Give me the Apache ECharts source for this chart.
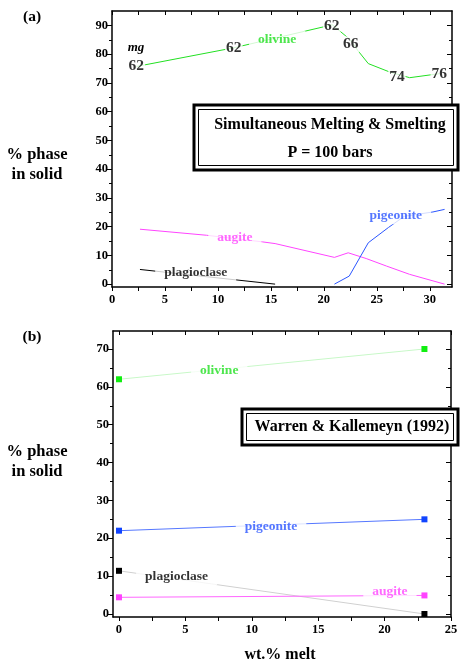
<!DOCTYPE html>
<html>
<head>
<meta charset="utf-8">
<script src="https://cdn.jsdelivr.net/npm/echarts@6/dist/echarts.min.js"></script>
<style>html,body{margin:0;padding:0;background:#fff}#c{width:461px;height:665px}</style>
</head>
<body>
<div id="c"></div>
<script>
// ---------- Panel (a): Simultaneous Melting & Smelting ----------
const olivineA = [[2.3,75.7],[11.5,82.2],[20.8,90.2],[22.5,85.0],[23.2,81.3],[24.2,76.7],[26.2,73.8],[28.1,71.8],[30.9,73.2]];
const augiteA = [[2.64,19.1],[8.93,17.0],[14.2,14.7],[15.4,14.1],[21.0,9.3],[22.3,10.9],[24.0,8.9],[25.9,6.3],[28.1,3.4],[31.4,0]];
const pigeoniteA = [[21.0,0],[22.4,2.8],[24.2,14.4],[26.1,19.7],[27.6,23.6],[30.3,25.1],[31.4,26.0]];
const plagioclaseA = [[2.64,5.1],[15.4,0]];
const mgLabelsA = [[2.3,75.8,'62'],[11.5,82.2,'62'],[20.75,89.9,'62'],[22.55,83.4,'66'],[26.9,72.0,'74'],[30.9,73.0,'76']];
const phaseLabelsA = [[15.6,85.1,'olivine','#22e022'],[11.6,16.1,'augite','#ff44ff'],[26.8,24.0,'pigeonite','#2a55ff'],[7.9,4.1,'plagioclase','#000']];
const xLabelsA = [0,5,10,15,20,25,30];
const xTicksA = [0,2.5,5,7.5,10,12.5,15,17.5,20,22.5,25,27.5,30];
const yLabelsA = [0,10,20,30,40,50,60,70,80,90];
const yMinorA = [5,15,25,35,45,55,65,75,85];

// ---------- Panel (b): Warren & Kallemeyn (1992) ----------
const meltB = [0,23];
const olivineB = [62,70];
const pigeoniteB = [22,25];
const plagioclaseB = [11.4,0];
const augiteB = [4.4,4.9];
const phaseLabelsB = [[7.55,64.4,'olivine','#22e022'],[11.45,23.2,'pigeonite','#2a55ff'],[4.34,10.0,'plagioclase','#000'],[20.4,5.9,'augite','#ff44ff']];
const xLabelsB = [0,5,10,15,20,25];
const xTicksB = [0,2.5,5,7.5,10,12.5,15,17.5,20,22.5,25];
const yLabelsB = [0,10,20,30,40,50,60,70];
const yMinorB = [5,15,25,35,45,55,65];

const FONT = "'Liberation Serif','Times New Roman',serif";
const TICKFS = 12.5;
const chart = echarts.init(document.getElementById('c'), null, {renderer:'canvas'});

function xAxes(grid, min, max, labels, ticks) {
  return [
    {type:'value', gridIndex:grid, min:min, max:max, position:'bottom',
     axisLine:{show:true, onZero:false, lineStyle:{color:'#000', width:1.5}},
     axisTick:{show:true, inside:false, length:4, customValues:ticks, lineStyle:{color:'#000', width:1}},
     axisLabel:{show:true, customValues:labels, color:'#000', fontFamily:FONT, fontWeight:'bold', fontSize:TICKFS, margin:6},
     splitLine:{show:false}},
    {type:'value', gridIndex:grid, min:min, max:max, position:'top',
     axisLine:{show:true, onZero:false, lineStyle:{color:'#000', width:1.5}},
     axisTick:{show:true, inside:true, length:4, customValues:ticks, lineStyle:{color:'#000', width:1}},
     axisLabel:{show:false}, splitLine:{show:false}}
  ];
}
function yAxes(grid, min, max, labels, minor) {
  return [
    {type:'value', gridIndex:grid, min:min, max:max, position:'left',
     axisLine:{show:true, onZero:false, lineStyle:{color:'#000', width:1.5}},
     axisTick:{show:true, inside:false, length:5, customValues:labels, lineStyle:{color:'#000', width:1}},
     axisLabel:{show:true, customValues:labels, color:'#000', fontFamily:FONT, fontWeight:'bold', fontSize:TICKFS, margin:4},
     splitLine:{show:false}},
    {type:'value', gridIndex:grid, min:min, max:max, position:'left',
     axisLine:{show:false, onZero:false},
     axisTick:{show:true, inside:false, length:3, customValues:minor, lineStyle:{color:'#000', width:1}},
     axisLabel:{show:false}, splitLine:{show:false}},
    {type:'value', gridIndex:grid, min:min, max:max, position:'right',
     axisLine:{show:true, onZero:false, lineStyle:{color:'#000', width:1.5}},
     axisTick:{show:true, inside:true, length:5, customValues:labels, lineStyle:{color:'#000', width:1}},
     axisLabel:{show:false}, splitLine:{show:false}},
    {type:'value', gridIndex:grid, min:min, max:max, position:'right',
     axisLine:{show:false, onZero:false},
     axisTick:{show:true, inside:true, length:3, customValues:minor, lineStyle:{color:'#000', width:1}},
     axisLabel:{show:false}, splitLine:{show:false}}
  ];
}

function lineSeries(xi, yi, data, color, width) {
  return {type:'line', xAxisIndex:xi, yAxisIndex:yi, data:data, showSymbol:false, symbol:'none',
    lineStyle:{color:color, width:width}, z:2, animation:false, silent:true};
}
function labelSeries(xi, yi, data, size, pad) {
  return {type:'scatter', xAxisIndex:xi, yAxisIndex:yi, symbolSize:0, z:5, animation:false, silent:true,
    data:data.map(d => ({value:[d[0],d[1]], name:d[2],
      label:{show:true, position:'inside', formatter:'{b}', color:d[3]||'#000', fontFamily:FONT, fontWeight:'bold',
        fontSize:size, backgroundColor:'#fff', padding:pad}})),
    label:{show:true, position:'inside', formatter:'{b}', fontFamily:FONT, fontWeight:'bold', fontSize:size,
      backgroundColor:'#fff', padding:pad}};
}

function pointSeries(xi, yi, ys, color, lineColor) {
  return {type:'line', xAxisIndex:xi, yAxisIndex:yi, data:meltB.map((x,i)=>[x,ys[i]]),
    symbol:'rect', symbolSize:6, showSymbol:true, itemStyle:{color:color},
    lineStyle:{color:lineColor, width:1}, z:3, animation:false, silent:true};
}

const T = (x, y, text, font, extra) => Object.assign({type:'text', x:x, y:y,
  style:{text:text, font:font + ' ' + FONT, fill:'#000', align:'center', verticalAlign:'middle'}}, extra||{});

const option = {
  animation:false,
  grid:[
    {left:112, right:9, top:11, bottom:378},
    {left:113, right:10, top:331, bottom:48}
  ],
  xAxis:[...xAxes(0, 0, 32.1, xLabelsA, xTicksA), ...xAxes(1, -0.45, 25, xLabelsB, xTicksB)],
  yAxis:[...yAxes(0, -1, 95, yLabelsA, yMinorA), ...yAxes(1, -0.8, 74.75, yLabelsB, yMinorB)],
  series:[
    lineSeries(0,0,olivineA,'#22e022',1),
    lineSeries(0,0,augiteA,'#ff44ff',1),
    lineSeries(0,0,pigeoniteA,'#2a55ff',1),
    lineSeries(0,0,plagioclaseA,'#000',1),
    labelSeries(0,0,mgLabelsA.map(d=>[d[0],d[1],d[2],'#000']),15.5,[0,1]),
    labelSeries(0,0,phaseLabelsA,13.5,[2,9]),
    pointSeries(2,4,olivineB,'#11ee11','#c8f8c8'),
    pointSeries(2,4,pigeoniteB,'#1144ff','#5577ff'),
    pointSeries(2,4,plagioclaseB,'#000','#d0d0d0'),
    pointSeries(2,4,augiteB,'#ff44ff','#ff66ff'),
    labelSeries(2,4,phaseLabelsB,13.5,[2,9])
  ],
  graphic:[
    T(32, 17, '(a)', 'bold 15.5px'),
    T(37, 155, '% phase', 'bold 16.5px'),
    T(37, 175, 'in solid', 'bold 16.5px'),
    T(136, 48, 'mg', 'italic bold 13px'),
    T(32, 337, '(b)', 'bold 15.5px'),
    T(37, 452, '% phase', 'bold 16.5px'),
    T(37, 472, 'in solid', 'bold 16.5px'),
    T(280, 655, 'wt.% melt', 'bold 16px'),
    // box (a)
    {type:'rect', z:100, shape:{x:194, y:105, width:264, height:65}, style:{fill:'#fff', stroke:'#000', lineWidth:3}},
    {type:'rect', z:101, shape:{x:198.5, y:109.5, width:255, height:56}, style:{fill:'#fff', stroke:'#000', lineWidth:1}},
    T(330, 125, 'Simultaneous Melting & Smelting', 'bold 16px', {z:102}),
    T(330, 153, 'P = 100 bars', 'bold 16px', {z:102}),
    // box (b)
    {type:'rect', z:100, shape:{x:242, y:409, width:216, height:36}, style:{fill:'#fff', stroke:'#000', lineWidth:3}},
    {type:'rect', z:101, shape:{x:246.5, y:413.5, width:207, height:27}, style:{fill:'#fff', stroke:'#000', lineWidth:1}},
    T(352, 427, 'Warren & Kallemeyn (1992)', 'bold 16px', {z:102})
  ]
};
chart.setOption(option);
</script>
</body>
</html>
